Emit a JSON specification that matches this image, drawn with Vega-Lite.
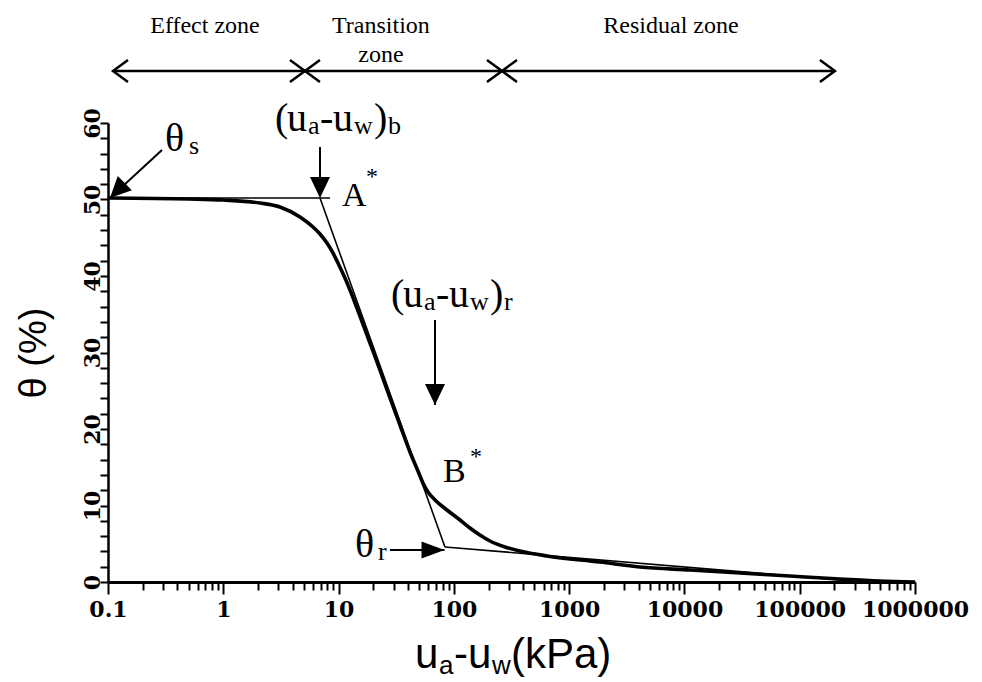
{
  "$schema": "https://vega.github.io/schema/vega-lite/v6.json",
  "width": 807,
  "height": 459,
  "autosize": {"type": "none"},
  "padding": {"left": 108, "top": 123, "right": 67, "bottom": 100},
  "background": "white",
  "config": {
    "view": {"stroke": null},
    "axis": {
      "grid": false,
      "domainColor": "black",
      "domainWidth": 2.5,
      "tickColor": "black",
      "tickWidth": 2,
      "labelColor": "black",
      "labelFont": "DejaVu Serif",
      "labelFontWeight": "bold",
      "labelFontSize": 22,
      "titleColor": "black"
    }
  },
  "resolve": {"scale": {"shape": "independent"}},
  "datasets": {
    "curve": [
      {"x": 0.1, "y": 50.2}, {"x": 0.5, "y": 50.07}, {"x": 1.0, "y": 49.93},
      {"x": 2.08, "y": 49.54}, {"x": 3.1, "y": 49.02}, {"x": 4.63, "y": 47.71},
      {"x": 6.0, "y": 46.41}, {"x": 6.9, "y": 45.49}, {"x": 7.93, "y": 44.31},
      {"x": 8.94, "y": 43.01}, {"x": 9.88, "y": 41.7}, {"x": 11.36, "y": 39.74},
      {"x": 13.07, "y": 37.52}, {"x": 15.33, "y": 34.77}, {"x": 18.72, "y": 31.24},
      {"x": 22.87, "y": 27.71}, {"x": 27.92, "y": 24.05}, {"x": 34.08, "y": 20.52},
      {"x": 41.62, "y": 16.99}, {"x": 48.83, "y": 14.51}, {"x": 53.95, "y": 12.94},
      {"x": 59.63, "y": 11.76}, {"x": 68.58, "y": 10.72}, {"x": 87.14, "y": 9.41},
      {"x": 113.1, "y": 8.1}, {"x": 137.9, "y": 7.06}, {"x": 168.1, "y": 6.14},
      {"x": 205.7, "y": 5.36}, {"x": 277.4, "y": 4.58}, {"x": 374.4, "y": 4.05},
      {"x": 642, "y": 3.4}, {"x": 1850, "y": 2.61}, {"x": 4110, "y": 1.96},
      {"x": 11200, "y": 1.57}, {"x": 30300, "y": 1.18}, {"x": 82200, "y": 0.78},
      {"x": 223000, "y": 0.39}, {"x": 496000, "y": 0.13}, {"x": 1000000, "y": 0.0}
    ],
    "guides": [
      {"seg": "saturated", "x": 0.1, "y": 50.2},
      {"seg": "saturated", "x": 8.42, "y": 50.2},
      {"seg": "tangent", "x": 6.9, "y": 50.2},
      {"seg": "tangent", "x": 83.7, "y": 4.58},
      {"seg": "residual", "x": 83.7, "y": 4.58},
      {"seg": "residual", "x": 250000, "y": 0.2}
    ],
    "zonebar": [
      {"x": 0.1105, "x2": 202000, "y": 66.8}
    ],
    "zoneheads": [
      {"x": 0.1105, "y": 66.8, "kind": "left"},
      {"x": 5.11, "y": 66.8, "kind": "cross"},
      {"x": 261.4, "y": 66.8, "kind": "cross"},
      {"x": 202000, "y": 66.8, "kind": "right"}
    ],
    "arrows": [
      {"x": 0.294, "y": 56.47, "x2": 0.104, "y2": 50.2},
      {"x": 6.9, "y": 56.86, "x2": 6.9, "y2": 50.4},
      {"x": 68.6, "y": 34.25, "x2": 68.6, "y2": 23.14},
      {"x": 27.9, "y": 4.18, "x2": 83.0, "y2": 4.18}
    ],
    "heads": [
      {"x": 0.104, "y": 50.2, "dir": "downleft"},
      {"x": 6.9, "y": 50.2, "dir": "down"},
      {"x": 68.6, "y": 23.14, "dir": "down"},
      {"x": 83.0, "y": 4.18, "dir": "right"}
    ],
    "labels": [
      {"t": "Effect zone", "x": 0.694, "y": 71.76, "k": "zone"},
      {"t": "Transition", "x": 23.3, "y": 71.76, "k": "zone"},
      {"t": "zone", "x": 23.3, "y": 67.97, "k": "zone"},
      {"t": "Residual zone", "x": 7640, "y": 71.76, "k": "zone"},

      {"t": "θ", "x": 0.3122, "y": 56.34, "k": "big"},
      {"t": "s", "x": 0.504, "y": 55.95, "k": "sub"},

      {"t": "(", "x": 2.808, "y": 58.95, "k": "big"},
      {"t": "u", "x": 3.568, "y": 58.95, "k": "big"},
      {"t": "a", "x": 5.428, "y": 58.56, "k": "sub"},
      {"t": "-", "x": 6.898, "y": 58.95, "k": "big"},
      {"t": "u", "x": 8.943, "y": 58.95, "k": "big"},
      {"t": "w", "x": 13.6, "y": 58.56, "k": "sub"},
      {"t": ")", "x": 20.28, "y": 58.95, "k": "big"},
      {"t": "b", "x": 26.82, "y": 58.56, "k": "sub"},

      {"t": "A", "x": 10.7, "y": 49.15, "k": "letter"},
      {"t": "*", "x": 17.28, "y": 52.03, "k": "star"},

      {"t": "(", "x": 28.48, "y": 35.95, "k": "big"},
      {"t": "u", "x": 36.19, "y": 35.95, "k": "big"},
      {"t": "a", "x": 55.04, "y": 35.56, "k": "sub"},
      {"t": "-", "x": 69.96, "y": 35.95, "k": "big"},
      {"t": "u", "x": 90.7, "y": 35.95, "k": "big"},
      {"t": "w", "x": 137.9, "y": 35.56, "k": "sub"},
      {"t": ")", "x": 205.7, "y": 35.95, "k": "big"},
      {"t": "r", "x": 271.9, "y": 35.56, "k": "sub"},

      {"t": "B", "x": 80.47, "y": 13.07, "k": "letter"},
      {"t": "*", "x": 137.9, "y": 15.42, "k": "star"},

      {"t": "θ", "x": 13.88, "y": 3.27, "k": "big"},
      {"t": "r", "x": 21.96, "y": 2.88, "k": "sub"},

      {"t": "u", "x": 45.98, "y": -11.24, "k": "title"},
      {"t": "a", "x": 74.27, "y": -12.03, "k": "titlesub"},
      {"t": "-", "x": 100.2, "y": -11.24, "k": "title"},
      {"t": "u", "x": 132.5, "y": -11.24, "k": "title"},
      {"t": "w", "x": 214.0, "y": -12.03, "k": "titlesub"},
      {"t": "(kPa)", "x": 312.7, "y": -11.24, "k": "title"}
    ]
  },
  "encoding": {
    "x": {
      "field": "x",
      "type": "quantitative",
      "scale": {"type": "log", "domain": [0.1, 1000000], "nice": false},
      "axis": {
        "title": null,
        "values": [0.1, 0.2, 0.3, 0.4, 0.5, 0.6, 0.7, 0.8, 0.9,
                   1, 2, 3, 4, 5, 6, 7, 8, 9,
                   10, 20, 30, 40, 50, 60, 70, 80, 90,
                   100, 200, 300, 400, 500, 600, 700, 800, 900,
                   1000, 2000, 3000, 4000, 5000, 6000, 7000, 8000, 9000,
                   10000, 20000, 30000, 40000, 50000, 60000, 70000, 80000, 90000,
                   100000, 200000, 300000, 400000, 500000, 600000, 700000, 800000, 900000,
                   1000000],
        "labelExpr": "abs(log(datum.value)/LN10 - round(log(datum.value)/LN10)) < 0.001 ? format(datum.value, '.10~f') : ''",
        "labelOverlap": false,
        "labelFlush": false,
        "labelBound": false,
        "tickSize": {"condition": {"test": "abs(log(datum.value)/LN10 - round(log(datum.value)/LN10)) < 0.001", "value": 12}, "value": 8},
        "labelPadding": 5,
        "domainWidth": 3
      }
    },
    "y": {
      "field": "y",
      "type": "quantitative",
      "scale": {"domain": [0, 60], "nice": false, "zero": false},
      "axis": {
        "title": "θ (%)",
        "titleFont": "Liberation Sans",
        "titleFontSize": 38,
        "titleFontWeight": "normal",
        "titlePadding": 28,
        "values": [0, 2, 4, 6, 8, 10, 12, 14, 16, 18, 20, 22, 24, 26, 28, 30, 32, 34, 36, 38, 40, 42, 44, 46, 48, 50, 52, 54, 56, 58, 60],
        "labelExpr": "datum.value % 10 === 0 ? datum.label : ''",
        "labelAngle": -90,
        "labelAlign": "center",
        "labelBaseline": "alphabetic",
        "labelPadding": 1,
        "labelOverlap": false,
        "labelFlush": false,
        "tickSize": 8
      }
    }
  },
  "layer": [
    {
      "data": {"name": "guides"},
      "mark": {"type": "line", "color": "black", "strokeWidth": 1.6},
      "encoding": {"detail": {"field": "seg", "type": "nominal"}}
    },
    {
      "data": {"name": "curve"},
      "mark": {"type": "line", "color": "black", "strokeWidth": 3.6, "interpolate": "monotone"},
      "encoding": {}
    },
    {
      "data": {"name": "zonebar"},
      "mark": {"type": "rule", "color": "black", "strokeWidth": 2.5},
      "encoding": {"x2": {"field": "x2"}}
    },
    {
      "data": {"name": "zoneheads"},
      "mark": {"type": "point", "filled": false, "stroke": "black", "strokeWidth": 2.5, "size": 400, "opacity": 1},
      "encoding": {
        "shape": {
          "field": "kind",
          "type": "nominal",
          "scale": {
            "domain": ["left", "cross", "right"],
            "range": ["M 1.5 -1.1 L 0 0 L 1.5 1.1", "M -1.5 -1.1 L 1.5 1.1 M -1.5 1.1 L 1.5 -1.1", "M -1.5 -1.1 L 0 0 L -1.5 1.1"]
          },
          "legend": null
        }
      }
    },
    {
      "data": {"name": "arrows"},
      "mark": {"type": "rule", "color": "black", "strokeWidth": 2},
      "encoding": {"x2": {"field": "x2"}, "y2": {"field": "y2"}}
    },
    {
      "data": {"name": "heads"},
      "mark": {"type": "point", "filled": true, "color": "black", "size": 400, "opacity": 1, "strokeWidth": 0},
      "encoding": {
        "shape": {
          "field": "dir",
          "type": "nominal",
          "scale": {
            "domain": ["down", "right", "downleft"],
            "range": ["M 0 0 L -1 -2.1 L 1 -2.1 Z", "M 0 0 L -2.3 -0.85 L -2.3 0.85 Z", "M 0 0 L 2.19 -0.78 L 0.78 -2.19 Z"]
          },
          "legend": null
        }
      }
    },
    {
      "data": {"name": "labels"},
      "transform": [{"filter": "datum.k === 'zone'"}],
      "mark": {"type": "text", "font": "Liberation Serif", "fontSize": 24, "align": "center", "baseline": "alphabetic", "color": "black"},
      "encoding": {"text": {"field": "t"}}
    },
    {
      "data": {"name": "labels"},
      "transform": [{"filter": "datum.k === 'big'"}],
      "mark": {"type": "text", "font": "Liberation Serif", "fontSize": 40, "align": "left", "baseline": "alphabetic", "color": "black"},
      "encoding": {"text": {"field": "t"}}
    },
    {
      "data": {"name": "labels"},
      "transform": [{"filter": "datum.k === 'sub'"}],
      "mark": {"type": "text", "font": "Liberation Serif", "fontSize": 26, "align": "left", "baseline": "alphabetic", "color": "black"},
      "encoding": {"text": {"field": "t"}}
    },
    {
      "data": {"name": "labels"},
      "transform": [{"filter": "datum.k === 'letter'"}],
      "mark": {"type": "text", "font": "Liberation Serif", "fontSize": 34, "align": "left", "baseline": "alphabetic", "color": "black"},
      "encoding": {"text": {"field": "t"}}
    },
    {
      "data": {"name": "labels"},
      "transform": [{"filter": "datum.k === 'star'"}],
      "mark": {"type": "text", "font": "Liberation Serif", "fontSize": 24, "align": "left", "baseline": "alphabetic", "color": "black"},
      "encoding": {"text": {"field": "t"}}
    },
    {
      "data": {"name": "labels"},
      "transform": [{"filter": "datum.k === 'title'"}],
      "mark": {"type": "text", "font": "Liberation Sans", "fontSize": 42, "align": "left", "baseline": "alphabetic", "color": "black"},
      "encoding": {"text": {"field": "t"}}
    },
    {
      "data": {"name": "labels"},
      "transform": [{"filter": "datum.k === 'titlesub'"}],
      "mark": {"type": "text", "font": "Liberation Sans", "fontSize": 26, "align": "left", "baseline": "alphabetic", "color": "black"},
      "encoding": {"text": {"field": "t"}}
    }
  ]
}
